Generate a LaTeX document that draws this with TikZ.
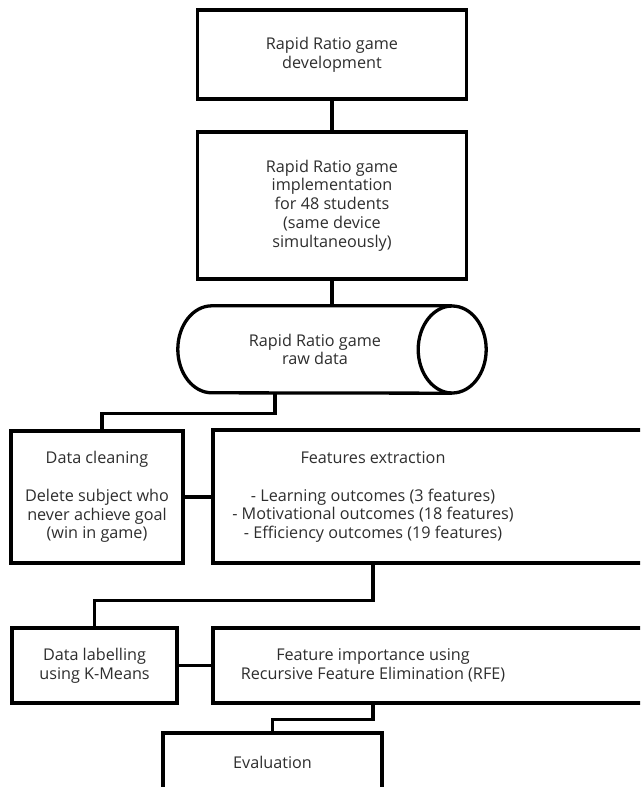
\documentclass[tikz,border=0pt]{standalone}
\usepackage{fontspec}
\setmainfont{Open Sans}
\usetikzlibrary{calc}
\begin{document}
\begin{tikzpicture}[x=1pt,y=1pt,
  every node/.style={font=\fontsize{16.2}{18.8}\selectfont, text=black!82},
  box/.style={draw=black, line width=3.3pt, rectangle, inner sep=0pt, align=center},
  txt/.style={draw=none, align=center, inner sep=0pt},
  conn/.style={draw=black, line width=3.3pt}]
\useasboundingbox (0,0) rectangle (640,-787);
\clip (0,0) rectangle (640,-787);
\fill[white] (0,0) rectangle (640,-787);

% top boxes
\node[box, minimum width=269, minimum height=89] (dev) at (332,-54.5)
  {Rapid Ratio game\\development};
\node[box, minimum width=269, minimum height=147] (impl) at (332,-205.5)
  {Rapid Ratio game\\implementation\\for 48 students\\(same device\\simultaneously)};

% cylinder
\node[txt, minimum width=274, minimum height=87] (raw) at (315,-349.5)
  {Rapid Ratio game\\raw data};
\draw[line width=3.3pt] (raw.north east) -- ([xshift=34]raw.north west)
  arc[start angle=90, end angle=270, x radius=34, y radius=43.5]
  -- (raw.south east);
\draw[line width=3.3pt] (raw.east) ellipse[x radius=34, y radius=43.5];

% middle row
\node[box, minimum width=172, minimum height=132] (clean) at (97,-497)
  {Data cleaning\\[18.8pt]Delete subject who\\never achieve goal\\(win in game)};
\node[box, minimum width=467, minimum height=133] (feat) at (446.5,-496.5) {};
\node[txt] (feattxt) at (373,-497)
  {Features extraction\\[18.8pt]- Learning outcomes (3 features)\\- Motivational outcomes (18 features)\\- Efficiency outcomes (19 features)};

% lower row
\node[box, minimum width=165, minimum height=75] (lab) at (94.5,-665.5)
  {Data labelling\\using K-Means};
\node[box, minimum width=467, minimum height=75] (imp) at (446.5,-665.5) {};
\node[txt] (imptxt) at (373,-665.5)
  {Feature importance using\\Recursive Feature Elimination (RFE)};

% evaluation
\node[box, minimum width=219, minimum height=58] (eval) at (272.5,-762) {Evaluation};

% connectors
\draw[conn] (dev.south) -- (impl.north);
\draw[conn] (impl.south) -- (impl.south |- raw.north);
\draw[conn] ([xshift=-40]raw.south) -- ++(0,-20) -| ([xshift=5]clean.north);
\draw[conn] (clean.east) -- (clean.east -| feat.west);
\draw[conn] (feattxt |- feat.south) -- ++(0,-36) -| (lab.north);
\draw[conn] (lab.east) -- (lab.east -| imp.west);
\draw[conn] (imptxt |- imp.south) -- ++(0,-15) -| (eval.north);
\end{tikzpicture}
\end{document}
